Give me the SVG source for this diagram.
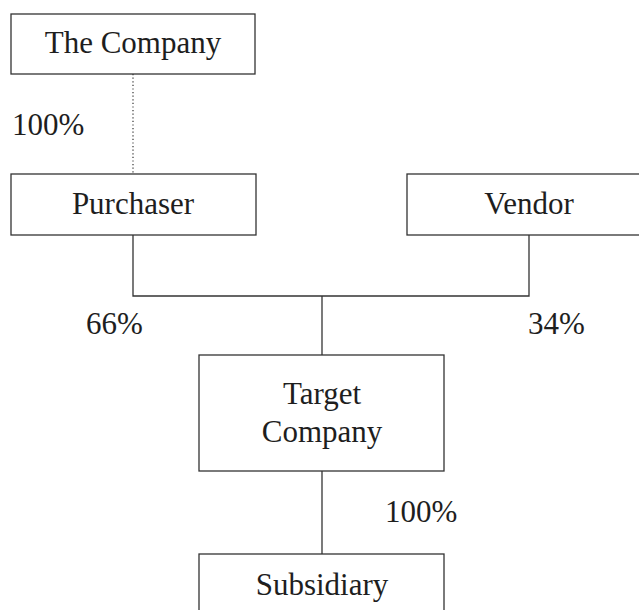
<svg xmlns="http://www.w3.org/2000/svg" width="639" height="610" viewBox="0 0 639 610">
  <style>
    .box { fill: #ffffff; stroke: #333333; stroke-width: 1.3; }
    .link { fill: none; stroke: #333333; stroke-width: 1.3; }
    .dotted { fill: none; stroke: #333333; stroke-width: 1.2; stroke-dasharray: 1.2 2.4; }
    text { font-family: "Liberation Serif", "Times New Roman", serif; font-size: 31px; fill: #1e1e1e; }
    .c { text-anchor: middle; }
  </style>
  <rect width="639" height="610" fill="#ffffff"/>

  <g id="connectors">
    <line class="dotted" x1="133" y1="74" x2="133" y2="174"/>
    <path class="link" d="M133 235 V296 H529 V235"/>
    <line class="link" x1="322" y1="296" x2="322" y2="355"/>
    <line class="link" x1="322" y1="471" x2="322" y2="554"/>
  </g>

  <g id="the-company">
    <rect class="box" x="11" y="14" width="244" height="60"/>
    <text class="c" x="133" y="53">The Company</text>
  </g>

  <g id="purchaser">
    <rect class="box" x="11" y="174" width="245" height="61"/>
    <text class="c" x="133" y="214">Purchaser</text>
  </g>

  <g id="vendor">
    <rect class="box" x="407" y="174" width="244" height="61"/>
    <text class="c" x="529" y="214">Vendor</text>
  </g>

  <g id="target-company">
    <rect class="box" x="199" y="355" width="245" height="116"/>
    <text class="c" x="322" y="404">Target</text>
    <text class="c" x="322" y="442">Company</text>
  </g>

  <g id="subsidiary">
    <rect class="box" x="199" y="554" width="245" height="70"/>
    <text class="c" x="322" y="595">Subsidiary</text>
  </g>

  <g id="labels">
    <text x="12" y="135">100%</text>
    <text x="86" y="334">66%</text>
    <text x="528" y="334">34%</text>
    <text x="385" y="522">100%</text>
  </g>
</svg>
